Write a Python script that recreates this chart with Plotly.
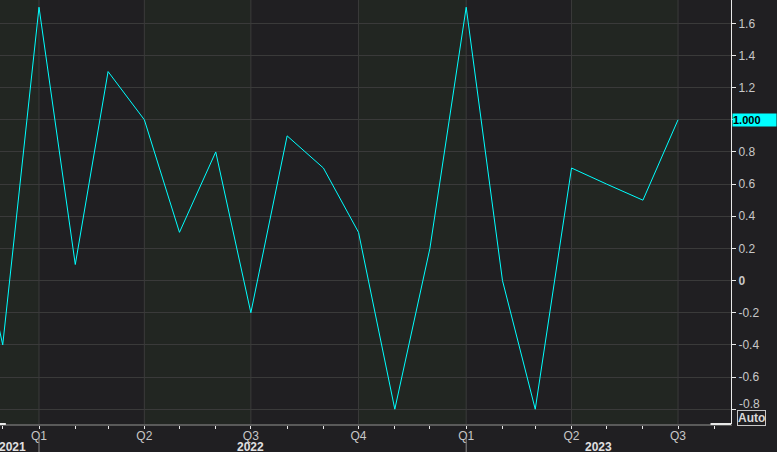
import plotly.graph_objects as go

# monthly readings (first of month)
dates = ["2021-11-01", "2021-12-01",
         "2022-01-01", "2022-02-01", "2022-03-01", "2022-04-01", "2022-05-01", "2022-06-01",
         "2022-07-01", "2022-08-01", "2022-09-01", "2022-10-01", "2022-11-01", "2022-12-01",
         "2023-01-01", "2023-02-01", "2023-03-01", "2023-04-01", "2023-05-01", "2023-06-01",
         "2023-07-01"]
values = [0.6, -0.4,
          1.7, 0.1, 1.3, 1.0, 0.3, 0.8,
          -0.2, 0.9, 0.7, 0.3, -0.8, 0.2,
          1.7, 0.0, -0.8, 0.7, 0.6, 0.5,
          1.0]

quarter_starts = ["2022-01-01", "2022-04-01", "2022-07-01", "2022-10-01",
                  "2023-01-01", "2023-04-01", "2023-07-01"]
quarter_labels = ["Q1", "Q2", "Q3", "Q4", "Q1", "Q2", "Q3"]

years = ["2021", "2022", "2023"]
year_starts = ["2022-01-01", "2023-01-01"]

# shaded quarters (Q4 / Q2 style bands)
bands = [("2021-10-01", "2022-01-01"), ("2022-04-01", "2022-07-01"),
         ("2022-10-01", "2023-01-01"), ("2023-04-01", "2023-07-01")]

y_ticks = [-0.8, -0.6, -0.4, -0.2, 0, 0.2, 0.4, 0.6, 0.8, 1.0, 1.2, 1.4, 1.6]
# -0.8 is drawn as a nudged annotation, 1.0 sits under the last-value tag
y_text = ["", "-0.6", "-0.4", "-0.2", "<b>0</b>", "0.2", "0.4", "0.6", "0.8", "", "1.2", "1.4", "1.6"]

x_range = ["2021-11-28 16:00", "2023-08-15 06:00"]

dark_bg = "#201f22"
band_bg = "#222622"
grid = "#3a3a3a"
label_col = "#c8c8c8"
fnt = "Liberation Sans"

fig = go.Figure()
fig.add_trace(go.Scatter(x=dates, y=values, mode="lines",
                         line=dict(color="#00ffff", width=1), hoverinfo="skip"))

shapes = []
for x0, x1 in bands:
    shapes.append(dict(type="rect", xref="x", yref="paper", x0=x0, x1=x1, y0=0, y1=1,
                       fillcolor=band_bg, line_width=0, layer="below"))
for q in quarter_starts:
    shapes.append(dict(type="line", xref="x", yref="paper", x0=q, x1=q, y0=0, y1=1,
                       line=dict(color=grid, width=1), layer="below"))
for ys in year_starts:
    shapes.append(dict(type="line", xref="x", yref="paper", x0=ys, x1=ys, y0=-0.031, y1=-0.07,
                       line=dict(color="#8a8a8a", width=1)))
# white end pieces of the bottom axis line
shapes.append(dict(type="line", xref="paper", yref="paper", x0=0, x1=0.008, y0=0, y1=0,
                   line=dict(color="#e8e8e8", width=2)))
shapes.append(dict(type="line", xref="paper", yref="paper", x0=0.972, x1=1, y0=0, y1=0,
                   line=dict(color="#e8e8e8", width=2)))

annotations = [
    dict(text="<b>1.000</b>", xref="paper", yref="y", x=1.001, y=values[-1], xanchor="left",
         yanchor="middle", showarrow=False, bgcolor="#00ffff", borderpad=0, height=12,
         font=dict(color="#000000", size=11, family=fnt), width=43, align="left"),
    dict(text=str(y_ticks[0]), xref="paper", yref="y", x=1.0, y=y_ticks[0], xanchor="left",
         yanchor="middle", xshift=6, yshift=5, showarrow=False,
         font=dict(color=label_col, size=12, family=fnt)),
    dict(text="<b>Auto</b>", xref="paper", yref="paper", x=1.008, y=0.0, xanchor="left",
         yanchor="bottom", yshift=-2, showarrow=False, bgcolor=dark_bg, bordercolor="#c8c8c8",
         borderwidth=1, borderpad=0, font=dict(color="#d8d8d8", size=12, family=fnt)),
    dict(text="<b>" + years[0] + "</b>", xref="paper", yref="paper", x=-0.004, y=0, xanchor="left",
         yanchor="middle", yshift=-23, showarrow=False,
         font=dict(color="#e0e0e0", size=12, family=fnt)),
    dict(text="<b>" + years[1] + "</b>", xref="x", yref="paper", x="2022-07-01", y=0,
         xanchor="center", yanchor="middle", yshift=-23, showarrow=False,
         font=dict(color="#e0e0e0", size=12, family=fnt)),
    dict(text="<b>" + years[2] + "</b>", xref="x", yref="paper", x="2023-04-24", y=0,
         xanchor="center", yanchor="middle", yshift=-23, showarrow=False,
         font=dict(color="#e0e0e0", size=12, family=fnt)),
]

fig.update_layout(
    width=777, height=452,
    margin=dict(l=0, r=46, t=0, b=28),
    paper_bgcolor=dark_bg, plot_bgcolor=dark_bg,
    showlegend=False,
    font=dict(family=fnt, size=12, color=label_col),
    shapes=shapes, annotations=annotations,
    xaxis=dict(type="date", range=x_range, tickvals=quarter_starts, ticktext=quarter_labels,
               ticks="outside", ticklen=3, tickcolor="#e8e8e8", showgrid=False,
               showline=True, linecolor="#5a5a5a", linewidth=2, zeroline=False,
               tickfont=dict(color=label_col, size=12), ticklabelstandoff=-3,
               minor=dict(dtick="M1", tick0="2021-12-01", ticks="outside", ticklen=3,
                          tickcolor="#e8e8e8", showgrid=False)),
    yaxis=dict(side="right", range=[-0.892, 1.745], tickvals=y_ticks, ticktext=y_text,
               ticks="outside", ticklen=4, tickcolor="#e8e8e8", showgrid=True, gridcolor=grid,
               gridwidth=1, zeroline=False, showline=True, linecolor="#e8e8e8", linewidth=1,
               tickfont=dict(color=label_col, size=12)),
)

# drop the browser's default page margin so the figure sits at the window corner
fig.write_html("out.html", config={"displayModeBar": False},
               post_script="document.body.style.margin='0';"
                           "document.body.style.background='" + dark_bg + "';")
